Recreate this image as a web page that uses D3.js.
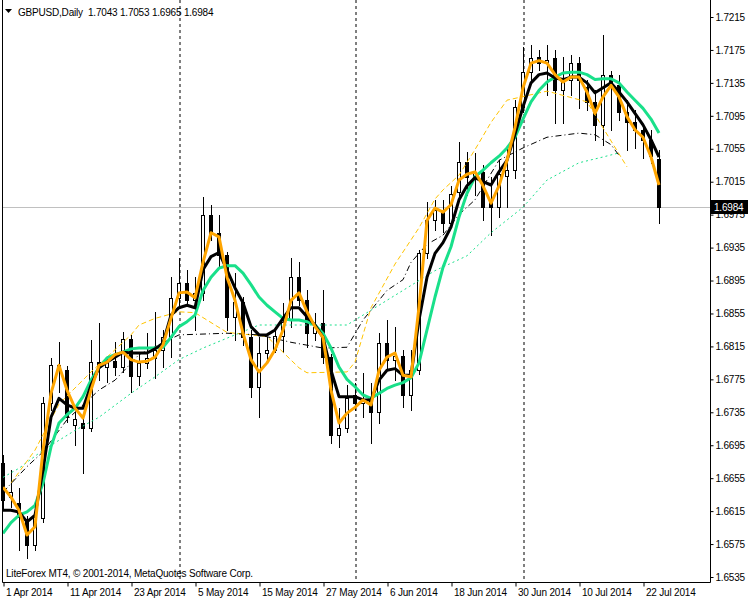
<!DOCTYPE html>
<html><head><meta charset="utf-8">
<script src="https://cdn.jsdelivr.net/npm/d3@7"></script>
<style>body{margin:0;background:#fff}svg{display:block}</style>
</head><body>
<svg id="c" width="750" height="600"></svg>
<script>
// ---- categories (trading days, 2014) ----
const aprDays = [1,2,3,4,7,8,9,10,11,14,15,16,17,18,21,22,23,24,25,28,29,30];
const mayDays = [1,2,5,6,7,8,9,12,13,14,15,16,19,20,21,22,23,26,27,28,29,30];
const junDays = [2,3,4,5,6,9,10,11,12,13,16,17,18,19,20,23,24,25,26,27,30];
const julDays = [1,2,3,4,7,8,9,10,11,14,15,16,17,18,21,22,23,24];
const dates = [].concat(
  aprDays.map(d => new Date(2014,3,d)), mayDays.map(d => new Date(2014,4,d)),
  junDays.map(d => new Date(2014,5,d)), julDays.map(d => new Date(2014,6,d)));

// ---- OHLC series ----
const open = [1.6673,1.6632,1.6625,1.6605,1.6574,1.6607,1.6746,1.6792,1.6786,1.6720,
1.6722,1.6716,1.6796,1.6790,1.6797,1.6790,1.6824,1.6779,1.6795,1.6801,
1.6811,1.6826,1.6874,1.6892,1.6871,1.6880,1.6975,1.6953,1.6926,1.6851,
1.6869,1.6826,1.6766,1.6807,1.6811,1.6828,1.6848,1.6899,1.6871,1.6831,
1.6843,1.6802,1.6707,1.6716,1.6756,1.6746,1.6750,1.6735,1.6819,1.6799,
1.6803,1.6756,1.6786,1.6929,1.6968,1.6981,1.6965,1.7003,1.7039,1.7021,
1.7027,1.6990,1.6984,1.7022,1.7029,1.7106,1.7148,1.7166,1.7159,1.7165,
1.7126,1.7139,1.7159,1.7130,1.7112,1.7084,1.7145,1.7132,1.7100,1.7087,
1.7078,1.7066,1.7043];
const high = [1.6683,1.6665,1.6643,1.6609,1.6620,1.6754,1.6801,1.6820,1.6791,1.6735,
1.6730,1.6823,1.6843,1.6803,1.6820,1.6832,1.6829,1.6807,1.6831,1.6857,
1.6835,1.6899,1.6922,1.6908,1.6899,1.6996,1.6987,1.6975,1.6930,1.6904,
1.6875,1.6835,1.6826,1.6826,1.6839,1.6868,1.6922,1.6918,1.6883,1.6856,
1.6883,1.6806,1.6740,1.6768,1.6771,1.6783,1.6771,1.6831,1.6847,1.6839,
1.6811,1.6811,1.6932,1.6990,1.6993,1.6993,1.7010,1.7063,1.7051,1.7050,
1.7035,1.7021,1.7041,1.7057,1.7114,1.7179,1.7181,1.7175,1.7181,1.7175,
1.7166,1.7169,1.7166,1.7139,1.7126,1.7193,1.7150,1.7145,1.7114,1.7102,
1.7084,1.7078,1.7053];
const low = [1.6619,1.6620,1.6568,1.6558,1.6568,1.6602,1.6738,1.6760,1.6723,1.6695,
1.6661,1.6712,1.6774,1.6772,1.6780,1.6784,1.6760,1.6768,1.6789,1.6777,
1.6790,1.6802,1.6865,1.6868,1.6835,1.6871,1.6944,1.6911,1.6835,1.6823,
1.6817,1.6754,1.6729,1.6795,1.6808,1.6808,1.6838,1.6865,1.6814,1.6823,
1.6795,1.6698,1.6693,1.6711,1.6738,1.6729,1.6698,1.6722,1.6786,1.6774,
1.6741,1.6738,1.6782,1.6922,1.6956,1.6954,1.6960,1.6995,1.6999,1.6999,
1.6968,1.6950,1.6972,1.6984,1.7020,1.7100,1.7139,1.7151,1.7120,1.7086,
1.7086,1.7120,1.7104,1.7102,1.7066,1.7060,1.7078,1.7090,1.7054,1.7056,
1.7044,1.7038,1.6965];
const close = [1.6628,1.6638,1.6608,1.6574,1.6608,1.6746,1.6792,1.6786,1.6729,1.6727,
1.6716,1.6796,1.6790,1.6797,1.6790,1.6824,1.6779,1.6795,1.6801,1.6811,
1.6826,1.6874,1.6892,1.6871,1.6880,1.6975,1.6953,1.6926,1.6851,1.6869,
1.6826,1.6766,1.6807,1.6811,1.6828,1.6845,1.6899,1.6871,1.6831,1.6839,
1.6802,1.6707,1.6716,1.6752,1.6746,1.6750,1.6735,1.6819,1.6799,1.6803,
1.6756,1.6786,1.6929,1.6968,1.6981,1.6965,1.7000,1.7039,1.7021,1.7027,
1.6984,1.6984,1.7024,1.7029,1.7106,1.7148,1.7165,1.7159,1.7163,1.7126,
1.7139,1.7159,1.7139,1.7112,1.7084,1.7145,1.7132,1.7100,1.7087,1.7078,
1.7066,1.7046,1.6984];

// ---- moving averages (thick) ----
const maOrange = [1.6644,1.6632,1.6616,1.6586,1.6596,1.6689,1.6758,1.6792,1.6762,1.6740,
1.6728,1.6762,1.6792,1.6796,1.6805,1.6808,1.6799,1.6796,1.6797,1.6802,
1.6817,1.6849,1.6880,1.6881,1.6874,1.6917,1.6953,1.6948,1.6899,1.6871,
1.6831,1.6799,1.6784,1.6795,1.6811,1.6835,1.6871,1.6880,1.6857,1.6839,
1.6826,1.6762,1.6722,1.6734,1.6741,1.6750,1.6744,1.6786,1.6802,1.6807,
1.6780,1.6778,1.6863,1.6968,1.6983,1.6978,1.6987,1.7017,1.7024,1.7027,
1.7010,1.6989,1.7010,1.7041,1.7081,1.7129,1.7159,1.7162,1.7159,1.7145,
1.7136,1.7142,1.7142,1.7124,1.7098,1.7118,1.7132,1.7118,1.7094,1.7078,
1.7069,1.7045,1.7011];
const maBlack = [1.6616,1.6616,1.6614,1.6602,1.6610,1.6665,1.6729,1.6752,1.6744,1.6740,
1.6740,1.6768,1.6789,1.6796,1.6802,1.6808,1.6807,1.6807,1.6807,1.6812,
1.6819,1.6853,1.6862,1.6865,1.6862,1.6908,1.6924,1.6929,1.6908,1.6886,
1.6868,1.6839,1.6829,1.6829,1.6835,1.6849,1.6862,1.6862,1.6851,1.6841,
1.6826,1.6786,1.6754,1.6754,1.6754,1.6750,1.6750,1.6774,1.6786,1.6788,
1.6780,1.6780,1.6847,1.6899,1.6928,1.6941,1.6960,1.6993,1.7010,1.7020,
1.7015,1.7011,1.7027,1.7041,1.7073,1.7106,1.7135,1.7145,1.7147,1.7141,
1.7139,1.7142,1.7142,1.7135,1.7123,1.7129,1.7135,1.7124,1.7112,1.7098,
1.7084,1.7066,1.7045];
const maGreen = [1.6588,1.6601,1.6610,1.6614,1.6622,1.6649,1.6693,1.6722,1.6732,1.6740,
1.6754,1.6774,1.6789,1.6801,1.6805,1.6808,1.6812,1.6813,1.6813,1.6813,
1.6814,1.6826,1.6839,1.6845,1.6853,1.6883,1.6899,1.6910,1.6913,1.6913,
1.6904,1.6890,1.6875,1.6865,1.6857,1.6849,1.6847,1.6847,1.6845,1.6841,
1.6831,1.6813,1.6790,1.6775,1.6766,1.6756,1.6752,1.6758,1.6764,1.6768,
1.6771,1.6777,1.6795,1.6835,1.6875,1.6911,1.6936,1.6972,1.7001,1.7021,
1.7029,1.7038,1.7046,1.7056,1.7069,1.7091,1.7112,1.7126,1.7136,1.7142,
1.7147,1.7148,1.7148,1.7145,1.7139,1.7140,1.7140,1.7135,1.7124,1.7114,
1.7104,1.7091,1.7074];

// ---- thin higher-timeframe lines: [bar index, price] ----
const thinOrange = [[1,1.6649],[4,1.6689],[7,1.6745],[11,1.6784],[16,1.6829],[17,1.6841],[19,1.6849],
[22,1.6857],[24,1.6856],[28,1.6832],[33,1.6827],[37,1.6789],[38,1.6783],[43,1.6784],[44,1.6796],
[46,1.6862],[49,1.6915],[52,1.6959],[54,1.6994],[55,1.7005],[57,1.7023],[59,1.7054],[61,1.7087],
[63,1.7114],[68,1.7125],[73,1.7112],[78,1.7033]];
const thinBlack = [[0,1.6638],[3,1.6669],[5,1.6687],[8,1.6726],[12,1.6762],[14,1.6774],[17,1.6805],[22,1.6829],
[28,1.6831],[32,1.6829],[36,1.6820],[40,1.6813],[43,1.6814],[45,1.6847],[48,1.6883],[50,1.6896],
[51,1.6917],[53,1.6939],[55,1.6950],[57,1.6975],[59,1.6993],[62,1.7041],[65,1.7056],[68,1.7069],
[72,1.7074],[74,1.7072],[76,1.7060],[77,1.7047]];
const thinGreen = [[0,1.6656],[2,1.6667],[5,1.6689],[9,1.6713],[12,1.6729],[16,1.6758],[19,1.6778],
[22,1.6799],[25,1.6813],[28,1.6825],[32,1.6841],[36,1.6841],[43,1.6841],[46,1.6859],[50,1.6883],
[54,1.6907],[58,1.6925],[61,1.6953],[65,1.6984],[68,1.7017],[72,1.7038],[75,1.7045],[77,1.7050]];

// ---- tick labels ----
const priceTicks = [1.7215,1.7175,1.7135,1.7095,1.7055,1.7015,1.6975,1.6935,1.6895,1.6855,
1.6815,1.6775,1.6735,1.6695,1.6655,1.6615,1.6575,1.6535];
const dateTickIdx = [0,8,16,24,32,40,48,56,64,72,80];
const dateTickLabels = ["1 Apr 2014","11 Apr 2014","23 Apr 2014","5 May 2014","15 May 2014",
"27 May 2014","6 Jun 2014","18 Jun 2014","30 Jun 2014","10 Jul 2014","22 Jul 2014"];
const titleText = "GBPUSD,Daily  1.7043 1.7053 1.6965 1.6984";
const footerText = "LiteForex MT4, \u00A9 2001-2014, MetaQuotes Software Corp.";

// ---- drawing ----
const FONT = "'Liberation Sans', Arial, sans-serif";
const LS = "-0.2px";
const svg = d3.select("#c");
const n = dates.length;
const x = d3.scalePoint().domain(d3.range(n)).range([3, 659]);
const y = d3.scaleLinear().domain([1.6535, 1.7215]).range([577, 17]);
const cx = i => Math.round(x(i));

// month separators
const seps = d3.range(1, n).filter(i => dates[i].getMonth() !== dates[i-1].getMonth());
svg.append("g").selectAll("line").data(seps).join("line")
  .attr("x1", i => cx(i) + 1).attr("x2", i => cx(i) + 1)
  .attr("y1", 0).attr("y2", 582)
  .attr("stroke", "#000").attr("stroke-width", 1).attr("stroke-dasharray", "3,3");

// last price line
const lastY = Math.round(y(close[n-1])) + 0.5;
svg.append("line").attr("x1", 2).attr("x2", 710).attr("y1", lastY).attr("y2", lastY)
  .attr("stroke", "#c0c0c0").attr("stroke-width", 1);

// candles
const cg = svg.append("g");
d3.range(n).forEach(i => {
  const xi = cx(i);
  cg.append("line").attr("x1", xi + 0.5).attr("x2", xi + 0.5)
    .attr("y1", Math.round(y(high[i]))).attr("y2", Math.round(y(low[i])) + 1)
    .attr("stroke", "#000").attr("stroke-width", 1);
  const top = Math.round(y(Math.max(open[i], close[i])));
  const bot = Math.round(y(Math.min(open[i], close[i])));
  const bull = close[i] >= open[i];
  cg.append("rect").attr("x", xi - 1.5).attr("y", top + 0.5)
    .attr("width", 3).attr("height", Math.max(bot - top, 0.01))
    .attr("fill", bull ? "#fff" : "#000").attr("stroke", "#000").attr("stroke-width", 1);
});

// thin lines
const pairLine = d3.line().x(d => x(d[0])).y(d => y(d[1]));
svg.append("path").attr("d", pairLine(thinGreen)).attr("fill", "none")
  .attr("stroke", "#19e08a").attr("stroke-width", 1).attr("stroke-dasharray", "2,3");
svg.append("path").attr("d", pairLine(thinOrange)).attr("fill", "none")
  .attr("stroke", "#ffc400").attr("stroke-width", 1).attr("stroke-dasharray", "5,3");
svg.append("path").attr("d", pairLine(thinBlack)).attr("fill", "none")
  .attr("stroke", "#000").attr("stroke-width", 1).attr("stroke-dasharray", "6,3,1,3");

// thick MAs
const maLine = d3.line().x((d, i) => x(i)).y(d => y(d));
svg.append("path").attr("d", maLine(maGreen)).attr("fill", "none")
  .attr("stroke", "#19e08a").attr("stroke-width", 3).attr("stroke-linejoin", "round");
svg.append("path").attr("d", maLine(maBlack)).attr("fill", "none")
  .attr("stroke", "#000").attr("stroke-width", 3).attr("stroke-linejoin", "round");
svg.append("path").attr("d", maLine(maOrange)).attr("fill", "none")
  .attr("stroke", "#ffa500").attr("stroke-width", 3).attr("stroke-linejoin", "round");

// frame
svg.append("path").attr("d", "M2.5,0V582.5H710.5V0").attr("fill", "none")
  .attr("stroke", "#000").attr("stroke-width", 1);

// right price axis
const yAxis = d3.axisRight(y).tickValues(priceTicks).tickFormat(d3.format(".4f"))
  .tickSize(3).tickPadding(2);
const ya = svg.append("g").attr("transform", "translate(710.5,0)").call(yAxis);
ya.select(".domain").remove();
ya.selectAll("text").attr("font-family", FONT).attr("font-size", 10).attr("fill", "#000")
  .style("letter-spacing", LS);
ya.selectAll("line").attr("stroke", "#000");

// bottom date axis
const xAxis = d3.axisBottom(x).tickValues(dateTickIdx)
  .tickFormat((d, k) => dateTickLabels[k]).tickSize(4).tickPadding(2);
const xa = svg.append("g").attr("transform", "translate(0.5,582.5)").call(xAxis);
xa.select(".domain").remove();
xa.selectAll("text").attr("font-family", FONT).attr("font-size", 10).attr("fill", "#000")
  .attr("text-anchor", "start").attr("x", 2).style("letter-spacing", LS);
xa.selectAll("line").attr("stroke", "#000");

// last price tag
const tagY = y(close[n-1]);
svg.append("rect").attr("x", 711).attr("y", Math.round(tagY) - 7).attr("width", 37).attr("height", 14)
  .attr("fill", "#000");
svg.append("text").attr("x", 714).attr("y", tagY).attr("dy", "0.35em")
  .attr("font-family", FONT).attr("font-size", 10).attr("fill", "#fff").style("letter-spacing", LS)
  .text(d3.format(".4f")(close[n-1]));

// title
svg.append("path").attr("d", "M5,9H12L8.5,13Z").attr("fill", "#000");
svg.append("text").attr("x", 18).attr("y", 15.5).attr("font-family", FONT).attr("font-size", 10)
  .attr("fill", "#000").style("white-space", "pre").style("letter-spacing", LS).text(titleText);

// footer
svg.append("text").attr("x", 6).attr("y", 577).attr("font-family", FONT).attr("font-size", 10)
  .attr("fill", "#000").style("letter-spacing", LS).text(footerText);
</script>
</body></html>
